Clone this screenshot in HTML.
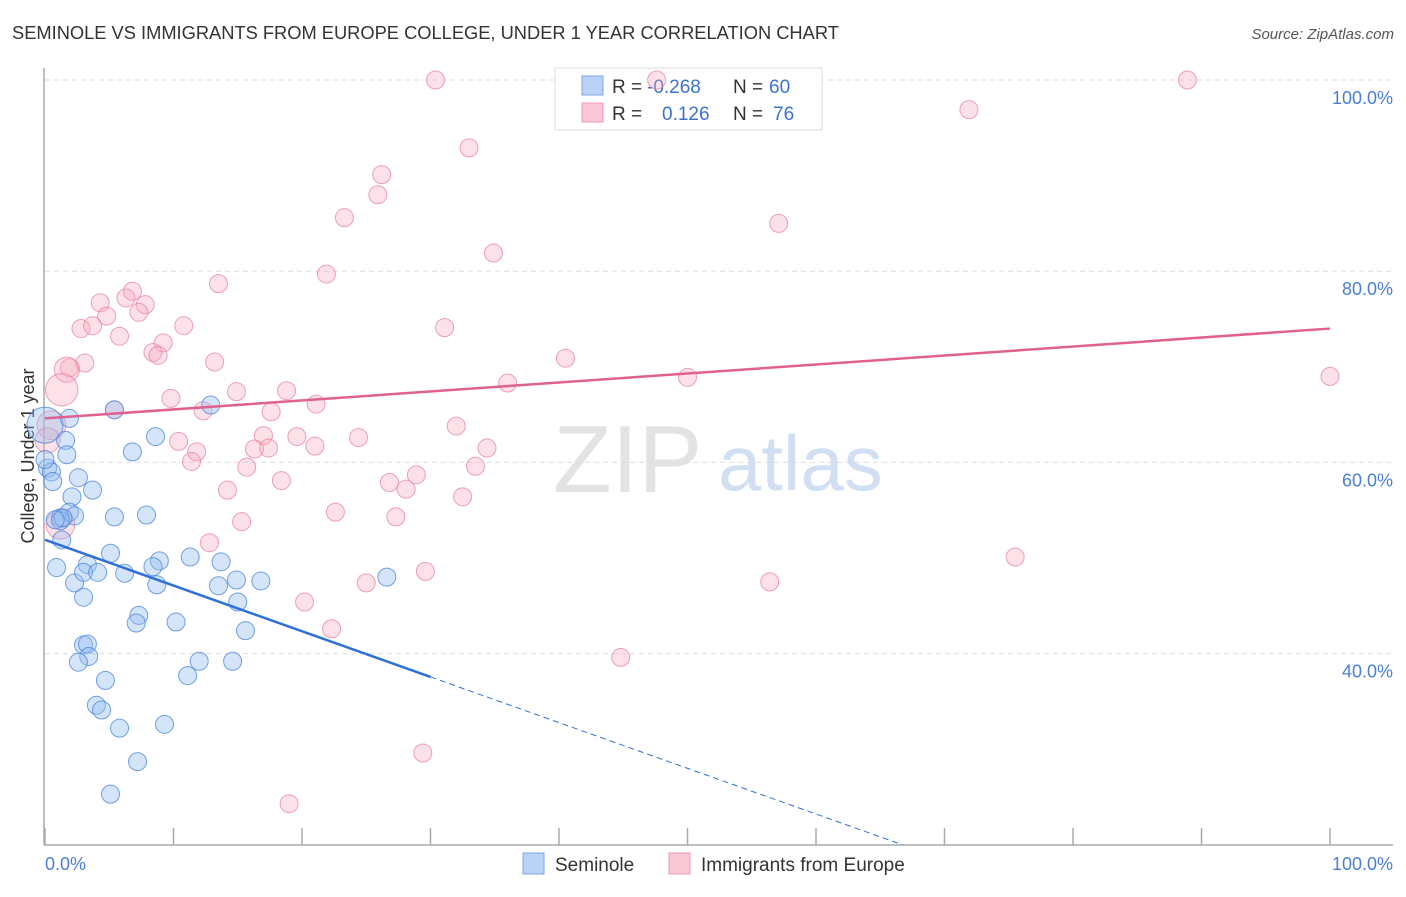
<!DOCTYPE html>
<html><head><meta charset="utf-8"><style>
body{margin:0;background:#fff;font-family:"Liberation Sans",sans-serif}
svg text{font-family:"Liberation Sans",sans-serif}
</style></head><body>
<svg id="chart" width="1406" height="892" viewBox="0 0 1406 892" xmlns="http://www.w3.org/2000/svg">
<text x="12" y="39" font-size="18.3" fill="#333">SEMINOLE VS IMMIGRANTS FROM EUROPE COLLEGE, UNDER 1 YEAR CORRELATION CHART</text>
<text x="1394" y="39" font-size="15" fill="#555" text-anchor="end" font-style="italic">Source: ZipAtlas.com</text>
<g id="grid"></g>
<g>
<text x="553" y="492" font-size="96" fill="#ddd" font-family="Liberation Serif" opacity="0.8">ZIP</text>
<text x="718" y="490" font-size="78" fill="#c8d8f0" opacity="0.8">atlas</text>
</g>
<line x1="44" y1="68" x2="44" y2="845" stroke="#aaa" stroke-width="1.5"/>
<line x1="44" y1="845" x2="1393" y2="845" stroke="#aaa" stroke-width="1.5"/>
<g id="xticks"></g>
<g id="ylabels"></g>
<text x="45" y="870" font-size="18" fill="#4a7fd6">0.0%</text>
<text x="1393" y="870" font-size="18" fill="#4a7fd6" text-anchor="end">100.0%</text>
<text transform="translate(34,456) rotate(-90)" font-size="18" fill="#333" text-anchor="middle">College, Under 1 year</text>
<g>
<rect x="555" y="68" width="267" height="62" fill="#fff" stroke="#ddd"/>
<rect x="582" y="76" width="21" height="19" fill="#b9d3f7" stroke="#7aa7e6"/>
<rect x="582" y="103" width="21" height="19" fill="#fbc8d8" stroke="#ee99b4"/>
<text x="612" y="93" font-size="19" fill="#333">R =</text>
<text x="647" y="93" font-size="19" fill="#3a72d0">-0.268</text>
<text x="733" y="93" font-size="19" fill="#333">N =</text>
<text x="769" y="93" font-size="19" fill="#3a72d0">60</text>
<text x="612" y="120" font-size="19" fill="#333">R =</text>
<text x="662" y="120" font-size="19" fill="#3a72d0">0.126</text>
<text x="733" y="120" font-size="19" fill="#333">N =</text>
<text x="773" y="120" font-size="19" fill="#3a72d0">76</text>
</g>
<g id="pinkpts"></g>
<g id="bluepts"></g>
<g id="trends"></g>
<g>
<rect x="523" y="853" width="21" height="21" fill="#b9d3f7" stroke="#7aa7e6"/>
<text x="555" y="871" font-size="19" fill="#333">Seminole</text>
<rect x="669" y="853" width="21" height="21" fill="#fbc8d8" stroke="#ee99b4"/>
<text x="701" y="871" font-size="19" fill="#333">Immigrants from Europe</text>
</g>
</svg>
<script>
const yTicks=[40,60,80,100];
const yTickLabels=["40.0%","60.0%","80.0%","100.0%"];
const xTicks=[0,10,20,30,40,50,60,70,80,90,100];
const blueX=[0,1.9,1.6,0.2,0.5,0.6,1.7,2.6,3.7,2.1,1.9,1.2,2.3,5.4,7.9,8.6,6.8,12.9,5.4,1.3,0.9,3.3,5.1,2.3,3.0,4.1,6.2,3.0,8.9,8.4,8.7,11.3,13.7,14.9,16.8,13.5,15.0,26.6,7.3,7.1,10.2,15.6,3.0,3.3,3.4,2.6,12.0,14.6,11.1,4.7,4.0,4.4,5.8,9.3,7.2,5.1,1.2,1.4,0,0.8];
const blueY=[63.9,64.6,62.3,59.4,59.0,58.0,60.8,58.4,57.1,56.4,54.8,54.2,54.4,54.3,54.5,62.7,61.1,66.0,65.5,51.9,49.0,49.3,50.5,47.4,48.5,48.5,48.4,45.9,49.7,49.1,47.2,50.1,49.6,47.7,47.6,47.1,45.4,48.0,44.0,43.2,43.3,42.4,40.9,41.0,39.7,39.1,39.2,39.2,37.7,37.2,34.6,34.1,32.2,32.6,28.7,25.3,53.9,54.2,60.3,54.0];
const blueSize=[2,1,1,1,1,1,1,1,1,1,1,1,1,1,1,1,1,1,1,1,1,1,1,1,1,1,1,1,1,1,1,1,1,1,1,1,1,1,1,1,1,1,1,1,1,1,1,1,1,1,1,1,1,1,1,1,1,1,1,1];
const pinkX=[30.4,47.6,88.9,71.9,33.0,26.2,25.9,23.3,57.1,34.9,21.9,13.5,4.3,6.8,6.3,7.8,4.8,7.3,2.8,3.7,5.8,10.8,31.1,9.2,8.4,8.8,13.2,1.9,3.1,1.7,1.3,40.5,50.0,100,36.0,14.9,18.8,9.8,21.1,12.3,17.6,5.4,0.5,0.2,10.4,19.6,24.4,32.0,34.4,17.0,21.0,16.3,17.4,11.8,11.4,15.7,33.5,28.9,26.8,28.1,18.4,14.2,32.5,27.3,22.6,15.3,12.8,75.5,29.6,25.0,56.4,20.2,22.3,44.8,29.4,19.0,1.2];
const pinkY=[100,100,100,96.9,92.9,90.1,88.0,85.6,85.0,81.9,79.7,78.7,76.7,77.9,77.2,76.5,75.3,75.7,74.0,74.3,73.2,74.3,74.1,72.5,71.5,71.2,70.5,69.9,70.4,69.7,67.6,70.9,68.9,69.0,68.3,67.4,67.5,66.7,66.1,65.4,65.3,65.5,63.9,62.3,62.2,62.7,62.6,63.8,61.5,62.8,61.7,61.4,61.5,61.1,60.1,59.5,59.6,58.7,57.9,57.2,58.1,57.1,56.4,54.3,54.8,53.8,51.6,50.1,48.6,47.4,47.5,45.4,42.6,39.6,29.6,24.3,53.5];
const pinkSize=[1,1,1,1,1,1,1,1,1,1,1,1,1,1,1,1,1,1,1,1,1,1,1,1,1,1,1,1,1,1.4,1.8,1,1,1,1,1,1,1,1,1,1,1,1.6,1.4,1,1,1,1,1,1,1,1,1,1,1,1,1,1,1,1,1,1,1,1,1,1,1,1,1,1,1,1,1,1,1,1,1.6];
const blueTrend=[51.9,-0.478];
const pinkTrend=[64.6,0.094];
const NS="http://www.w3.org/2000/svg";
const sx=v=>45+v*12.85;
const sy=v=>80+(100-v)*9.56;
function mk(tag,attrs,parent){const e=document.createElementNS(NS,tag);for(const k in attrs)e.setAttribute(k,attrs[k]);parent.appendChild(e);return e;}
const grid=document.getElementById('grid');
yTicks.forEach((t,i)=>{
  const l=mk('line',{x1:45,x2:1393,y1:sy(t),y2:sy(t),stroke:'#ddd','stroke-dasharray':'5,4'},grid);
  
  
  const tx=mk('text',{x:1393,y:sy(t)+24,'font-size':18,fill:'#4a7fd6','text-anchor':'end'},document.getElementById('ylabels'));
  tx.textContent=yTickLabels[i];
  
  
});
xTicks.forEach(t=>{
  const l=mk('line',{x1:sx(t),x2:sx(t),y1:828,y2:845,stroke:'#aaa','stroke-width':1.5},document.getElementById('xticks'));
  
  
});
const pg=document.getElementById('pinkpts');
pinkX.forEach((x,i)=>{
  const c=mk('circle',{cx:sx(x),cy:sy(pinkY[i]),r:9*pinkSize[i],fill:'rgba(246,168,192,0.35)',stroke:'rgba(232,130,162,0.75)','stroke-width':1},pg);
  
  
});
const bg=document.getElementById('bluepts');
blueX.forEach((x,i)=>{
  const c=mk('circle',{cx:sx(x),cy:sy(blueY[i]),r:9*blueSize[i],fill:'rgba(150,190,240,0.4)',stroke:'rgba(70,130,220,0.75)','stroke-width':1},bg);
  
  
});
const tg=document.getElementById('trends');
const bEnd=(20-blueTrend[0])/blueTrend[1];
const b1=mk('line',{x1:sx(0),y1:sy(blueTrend[0]),x2:sx(30),y2:sy(blueTrend[0]+blueTrend[1]*30),stroke:'#2f6fd8','stroke-width':2.5},tg);


const b2=mk('line',{x1:sx(30),y1:sy(blueTrend[0]+blueTrend[1]*30),x2:sx(bEnd),y2:sy(20),stroke:'#2f6fd8','stroke-width':1,'stroke-dasharray':'6,4'},tg);


const p1=mk('line',{x1:sx(0),y1:sy(pinkTrend[0]),x2:sx(100),y2:sy(pinkTrend[0]+pinkTrend[1]*100),stroke:'#e0608e','stroke-width':2.5},tg);


</script>
</body></html>
